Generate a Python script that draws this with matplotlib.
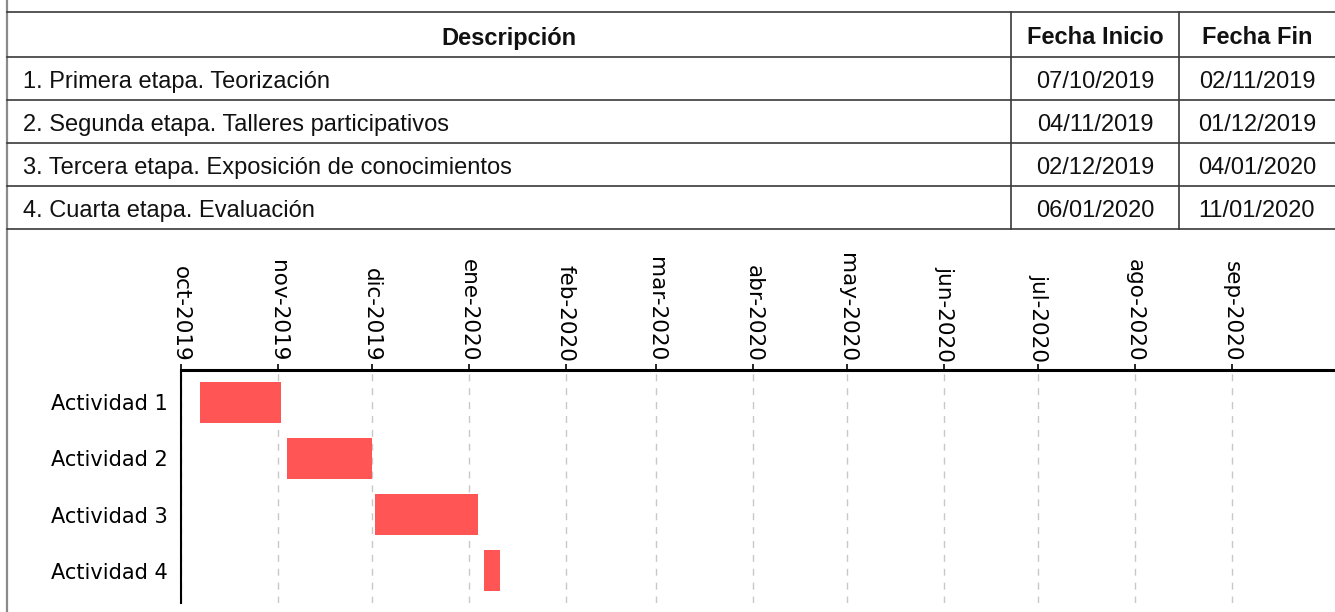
import matplotlib
matplotlib.use("Agg")
import matplotlib.pyplot as plt
import matplotlib.dates as mdates
import pandas as pd
from matplotlib.lines import Line2D

# ---- data ----
headers = ["Descripción", "Fecha Inicio", "Fecha Fin"]
descriptions = [
    "1. Primera etapa. Teorización",
    "2. Segunda etapa. Talleres participativos",
    "3. Tercera etapa. Exposición de conocimientos",
    "4. Cuarta etapa. Evaluación",
]
start_dates = ["07/10/2019", "04/11/2019", "02/12/2019", "06/01/2020"]
end_dates = ["02/11/2019", "01/12/2019", "04/01/2020", "11/01/2020"]
activities = ["Actividad 1", "Actividad 2", "Actividad 3", "Actividad 4"]
tick_labels = ["oct-2019", "nov-2019", "dic-2019", "ene-2020", "feb-2020", "mar-2020",
               "abr-2020", "may-2020", "jun-2020", "jul-2020", "ago-2020", "sep-2020"]

W, H = 1335, 612
fig = plt.figure(figsize=(W / 100, H / 100), dpi=100)

# ---- background / table (pixel coordinates) ----
bg = fig.add_axes([0, 0, 1, 1])
bg.set_xlim(0, W)
bg.set_ylim(H, 0)
bg.axis("off")

line_col = "#3a3a3a"
col_edges = [7, 1011, 1179, W]
row_edges = [12, 57, 100, 143, 186, 229]

bg.add_line(Line2D([7, 7], [0, H], color="#8a8a8a", lw=1.6))
for y in row_edges:
    bg.add_line(Line2D([7, W], [y, y], color=line_col, lw=1.2))
for x in col_edges[1:3]:
    bg.add_line(Line2D([x, x], [row_edges[0], row_edges[-1]], color=line_col, lw=1.2))

tfont = "Liberation Sans"
fs_t = 17
for j, h in enumerate(headers):
    cx = (col_edges[j] + col_edges[j + 1]) / 2
    bg.text(cx, (row_edges[0] + row_edges[1]) / 2 + 3.5, h, ha="center", va="center",
            fontsize=fs_t, fontweight="bold", family=tfont, color="#111111")
for i in range(len(descriptions)):
    cy = (row_edges[i + 1] + row_edges[i + 2]) / 2 + 3.5
    bg.text(23, cy, descriptions[i], ha="left", va="center", fontsize=fs_t,
            family=tfont, color="#111111")
    bg.text((col_edges[1] + col_edges[2]) / 2, cy, start_dates[i], ha="center",
            va="center", fontsize=fs_t, family=tfont, color="#111111")
    bg.text((col_edges[2] + col_edges[3]) / 2, cy, end_dates[i], ha="center",
            va="center", fontsize=fs_t, family=tfont, color="#111111")

# ---- gantt ----
starts = pd.to_datetime(start_dates, format="%d/%m/%Y")
ends = pd.to_datetime(end_dates, format="%d/%m/%Y")

ax_left, ax_right = 181, W
ax_top, ax_bottom = 370, 603
ax = fig.add_axes([ax_left / W, 1 - ax_bottom / H, (ax_right - ax_left) / W,
                   (ax_bottom - ax_top) / H])

s_num = mdates.date2num(starts)
e_num = mdates.date2num(ends)
ypos = list(range(len(activities)))
ax.barh(ypos, e_num - s_num, left=s_num, height=0.73, color="#FF5555", zorder=3)

ax.set_ylim(len(activities) - 0.43, -0.57)
ax.set_yticks(ypos)
ax.set_yticklabels(activities, fontsize=15, family="DejaVu Sans")
ax.tick_params(axis="y", length=0, pad=9.5)

tick_dates = pd.date_range("2019-10-01", periods=len(tick_labels), freq="MS")
ax.set_xticks(mdates.date2num(tick_dates))
ax.set_xticklabels(tick_labels, rotation=-90, fontsize=15.5, family="DejaVu Sans")
ax.set_xlim(mdates.date2num(pd.Timestamp("2019-10-01")),
            mdates.date2num(pd.Timestamp("2020-10-04")))
ax.xaxis.tick_top()
ax.tick_params(axis="x", length=4, width=1.2, pad=2, top=True, bottom=False,
               labeltop=True, labelbottom=False)

ax.grid(axis="x", color="#c8c8c8", linestyle=(0, (5, 5)), lw=1.0, zorder=0)
ax.spines["top"].set_linewidth(2.2)
ax.spines["left"].set_linewidth(1.5)
ax.spines["left"].set_linestyle((0, (6, 1)))
ax.spines["right"].set_visible(False)
ax.spines["bottom"].set_visible(False)
ax.set_facecolor("none")

fig.savefig("out.png", dpi=100)
